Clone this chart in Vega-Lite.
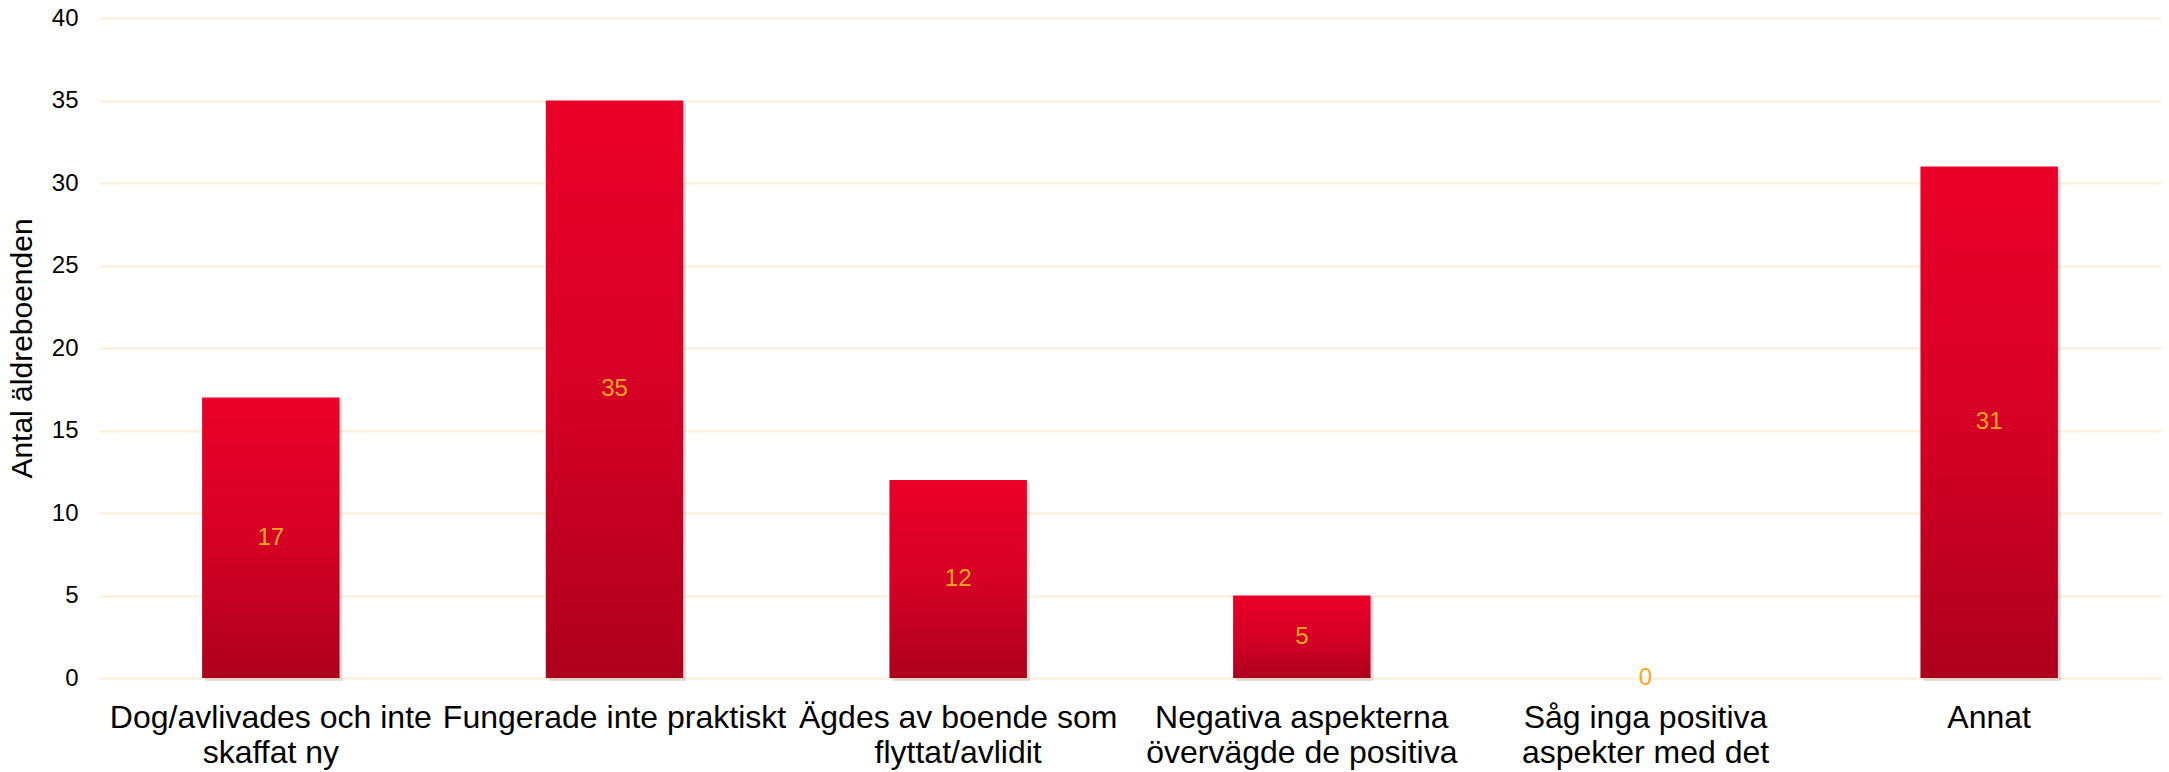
{
  "$schema": "https://vega.github.io/schema/vega-lite/v6.json",
  "width": 2062,
  "height": 660,
  "autosize": {"type": "none"},
  "padding": {"left": 99, "top": 18, "right": 8, "bottom": 94},
  "background": "white",
  "config": {"view": {"stroke": null}, "font": "Liberation Sans"},
  "data": {"values": [
    {"orsak": "Dog/avlivades och inte skaffat ny", "antal": 17},
    {"orsak": "Fungerade inte praktiskt", "antal": 35},
    {"orsak": "Ägdes av boende som flyttat/avlidit", "antal": 12},
    {"orsak": "Negativa aspekterna övervägde de positiva", "antal": 5},
    {"orsak": "Såg inga positiva aspekter med det", "antal": 0},
    {"orsak": "Annat", "antal": 31}
  ]},
  "encoding": {
    "x": {
      "field": "orsak", "type": "nominal", "sort": null,
      "scale": {"paddingInner": 0.6, "paddingOuter": 0.3},
      "axis": {
        "title": null, "labelAngle": 0, "domain": false, "ticks": false,
        "labelFontSize": 32, "labelColor": "#000000", "labelPadding": 24,
        "labelLineHeight": 35, "labelLimit": 500, "labelBaseline": "top",
        "labelExpr": "datum.value == 'Dog/avlivades och inte skaffat ny' ? ['Dog/avlivades och inte', 'skaffat ny'] : datum.value == 'Ägdes av boende som flyttat/avlidit' ? ['Ägdes av boende som', 'flyttat/avlidit'] : datum.value == 'Negativa aspekterna övervägde de positiva' ? ['Negativa aspekterna', 'övervägde de positiva'] : datum.value == 'Såg inga positiva aspekter med det' ? ['Såg inga positiva', 'aspekter med det'] : datum.value"
      }
    }
  },
  "layer": [
    {
      "mark": {"type": "bar", "color": "#000000", "opacity": 0.12, "xOffset": 3, "x2Offset": 3, "yOffset": 3, "y2Offset": 3},
      "encoding": {
        "y": {
          "field": "antal", "type": "quantitative",
          "scale": {"domain": [0, 40]},
          "axis": {
            "title": "Antal äldreboenden", "titleFontSize": 30, "titleFontWeight": "normal",
            "titleColor": "#000000", "titlePadding": 14,
            "values": [0, 5, 10, 15, 20, 25, 30, 35, 40],
            "domain": false, "ticks": false, "labelPadding": 21,
            "labelFontSize": 24, "labelColor": "#000000",
            "grid": true, "gridColor": "#fdefd6", "gridWidth": 2
          }
        }
      }
    },
    {
      "mark": {
        "type": "bar",
        "color": {
          "gradient": "linear", "x1": 0, "y1": 0, "x2": 0, "y2": 1,
          "stops": [
            {"offset": 0, "color": "#ea0029"},
            {"offset": 0.5, "color": "#d60025"},
            {"offset": 1, "color": "#ad001d"}
          ]
        }
      },
      "encoding": {
        "y": {"field": "antal", "type": "quantitative"}
      }
    },
    {
      "transform": [{"calculate": "datum.antal / 2", "as": "mitt"}],
      "mark": {"type": "text", "color": "#f7a823", "fontSize": 24, "baseline": "middle", "align": "center"},
      "encoding": {
        "y": {"field": "mitt", "type": "quantitative"},
        "text": {"field": "antal", "type": "quantitative"}
      }
    }
  ]
}
